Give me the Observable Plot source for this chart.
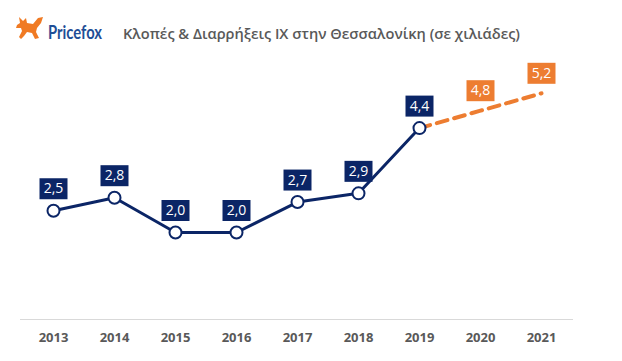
<!DOCTYPE html>
<html>
<head>
<meta charset="utf-8">
<script src="https://cdn.jsdelivr.net/npm/d3@7"></script>
<script src="https://cdn.jsdelivr.net/npm/@observablehq/plot@0.6"></script>
<style>
  html, body { margin: 0; padding: 0; background: #fff; }
  #header { display: block; }
  #chart svg { display: block; }
</style>
</head>
<body>
<svg id="header" width="622" height="50" xmlns="http://www.w3.org/2000/svg">
  <path fill="#F07A23" d="M19,17 L23,21 L26,18 L27,23 L33,24 L38,18 L43,17 L41,23 L37,28 L36,32 L39,38 L35,39 L32,33 L27,32 L24,36 L21,39 L19,37 L22,31 L21,28 L16,28 L17,25 L20,23 Z"/>
  <text x="48" y="39" font-family="Lato, 'Open Sans', sans-serif" font-weight="bold" font-size="19" fill="#1F4E96" textLength="54" lengthAdjust="spacingAndGlyphs">Pricefox</text>
  <text id="title" x="123" y="39" font-family="'Open Sans', sans-serif" font-weight="600" font-size="15" fill="#595959" textLength="397" lengthAdjust="spacingAndGlyphs">Κλοπές &amp; Διαρρήξεις ΙΧ στην Θεσσαλονίκη (σε χιλιάδες)</text>
</svg>
<div id="chart"></div>
<script>
const years = ["2013","2014","2015","2016","2017","2018","2019","2020","2021"];
const actualYears = ["2013","2014","2015","2016","2017","2018","2019"];
const actualValues = [2.5, 2.8, 2.0, 2.0, 2.7, 2.9, 4.4];
const forecastYears = ["2019","2020","2021"];
const forecastValues = [4.4, 4.8, 5.2];
const forecastLabelYears = ["2020","2021"];
const forecastLabelValues = [4.8, 5.2];

const actual = actualYears.map((y, i) => ({year: y, value: actualValues[i]}));
const forecast = forecastYears.map((y, i) => ({year: y, value: forecastValues[i]}));
const forecastLabels = forecastLabelYears.map((y, i) => ({year: y, value: forecastLabelValues[i]}));

const fmt = v => v.toFixed(1).replace(".", ",");
const boxSymbol = {draw(ctx) { ctx.moveTo(-14, -10.5); ctx.lineTo(14, -10.5); ctx.lineTo(14, 10.5); ctx.lineTo(-14, 10.5); ctx.closePath(); }};

const navy = "#0B2566";
const orange = "#ED7D31";

const chart = Plot.plot({
  width: 622,
  height: 311,
  marginLeft: 20,
  marginRight: 49,
  marginTop: 8,
  marginBottom: 42,
  style: {fontFamily: "'Open Sans', sans-serif", fontSize: "13px", fontWeight: "bold", color: "#595959", background: "#fff"},
  x: {type: "point", domain: years, padding: 0.5, tickSize: 0, tickPadding: 13, label: null},
  y: {domain: [0, 6], axis: null},
  marks: [
    Plot.ruleY([0], {stroke: "#D9D9D9", strokeWidth: 1}),
    Plot.line(forecast, {x: "year", y: "value", stroke: orange, strokeWidth: 4, strokeDasharray: "11,7"}),
    Plot.line(actual, {x: "year", y: "value", stroke: navy, strokeWidth: 3}),
    Plot.dot(actual, {x: "year", y: "value", r: 6, fill: "#fff", stroke: navy, strokeWidth: 2}),
    Plot.dot(actual, {x: "year", y: "value", dy: -22, symbol: boxSymbol, fill: navy, stroke: "none"}),
    Plot.text(actual, {x: "year", y: "value", dy: -22, text: d => fmt(d.value), fill: "#fff", fontSize: 14, fontWeight: "normal"}),
    Plot.dot(forecastLabels, {x: "year", y: "value", dy: -20, symbol: boxSymbol, fill: orange, stroke: "none"}),
    Plot.text(forecastLabels, {x: "year", y: "value", dy: -20, text: d => fmt(d.value), fill: "#fff", fontSize: 14, fontWeight: "normal"})
  ]
});
document.getElementById("chart").appendChild(chart);
</script>
</body>
</html>
